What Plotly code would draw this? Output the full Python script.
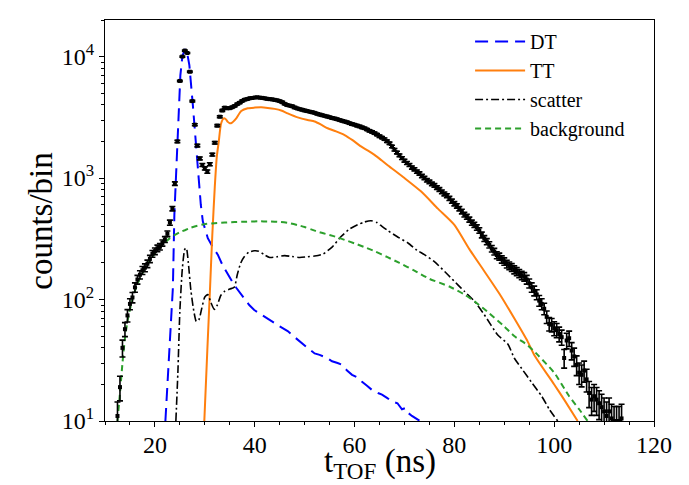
import numpy as np
import plotly.graph_objects as go

# ---------------- measured histogram (0.5 ns bins starting at 12.5 ns) ----------------
bin_start = 12.5
bin_width = 0.5
counts = [
    # 12.5 - 23.0
    11, 19, 40, 57, 74, 92, 104, 126, 146, 160, 174, 183, 197, 216, 238, 250, 264, 272, 292, 312, 348, 430,
    # 23.5 - 34.0
    560, 900, 2000, 6300, 10000, 11200, 10700, 7500, 4300, 2750, 1850, 1450, 1280, 1200, 1130, 1300, 1560, 1950, 2700, 3200, 3600, 3800,
    # 34.5 - 50.0
    3750, 3760, 3830, 3920, 4060, 4170, 4310, 4420, 4470, 4540, 4560, 4600, 4620, 4590, 4570, 4530,
    4490, 4460, 4440, 4400, 4360, 4300, 4210, 4080, 3990, 3950, 3900, 3810, 3740, 3690, 3650, 3600,
    # 50.5 - 66.0
    3560, 3520, 3480, 3440, 3380, 3330, 3290, 3250, 3210, 3170, 3120, 3090, 3050, 3000, 2960, 2920,
    2880, 2830, 2780, 2750, 2700, 2660, 2610, 2570, 2510, 2450, 2400, 2340, 2280, 2210, 2150, 2090,
    # 66.5 - 84.0
    2010, 1930, 1820, 1710, 1620, 1540, 1460, 1390, 1330, 1280, 1220, 1180, 1130, 1090, 1040, 1000, 960, 930,
    895, 870, 835, 805, 770, 740, 715, 680, 645, 615, 590, 560, 530, 500, 480, 455, 430, 412,
    # 84.5 - 113.5
    392, 370, 340, 318, 300, 282, 262, 248, 232, 226, 214, 206, 196, 190, 184, 176, 170, 164, 158, 154,
    146, 136, 126, 118, 110, 98, 92, 84, 72, 63, 62, 58, 56, 52, 49, 33, 46, 48, 38, 34,
    29, 25, 24, 26, 22, 17, 15, 16, 15, 14, 13, 12, 11, 12, 10.5, 10, 10, 10, 10.5,
]

# ---------------- fit components ----------------
dt_t = [22.1, 22.5, 22.9, 23.3, 23.6, 23.9, 24.2, 24.6, 25.1, 25.5, 26.0, 26.5, 26.9, 27.6, 28.2, 28.6, 28.9,
        29.2, 29.6, 30.6, 31.6, 32.6, 33.6, 34.6, 35.5, 36.3, 37.1, 37.9, 38.9, 39.9, 41.0, 42.0, 43.0, 44.0,
        45.0, 46.6, 48.0, 49.0, 50.6, 52.0, 53.0, 54.5, 55.5, 56.6, 57.5, 58.5, 59.5, 60.7, 61.5, 62.5, 63.5,
        64.7, 65.5, 66.5, 67.5, 68.6, 69.5, 70.2, 70.7, 71.5, 72.2, 73.1]
dt_v = [10, 20, 35, 70, 125, 500, 1000, 2700, 7000, 10000, 11500, 10500, 8500, 4000, 2000, 1100, 850,
        600, 440, 320, 270, 234, 190, 160, 140, 125, 113, 103, 90, 82, 77, 72, 68, 64,
        60, 55, 49, 45, 40, 36, 35, 33, 31, 30, 29, 26, 24, 22.7, 21, 19.5, 18,
        17, 16.5, 15.5, 14.5, 14, 12.5, 12.8, 11.7, 11, 10.5, 10]

tt_t = [29.9, 30.5, 31.0, 31.5, 32.0, 32.4, 32.8, 33.25, 33.8, 34.2, 34.6, 35.0, 35.4, 36.3, 37.3, 38.6, 40.0,
        41.3, 42.6, 44.0, 45.3, 46.6, 48.6, 50.6, 52.0, 53.3, 54.6, 56.3, 58.0, 59.6, 61.3, 62.7, 64.0, 65.4,
        66.7, 70.0, 73.3, 76.7, 80.0, 83.0, 86.0, 89.0, 92.0, 94.7, 96.0, 100.0, 102.0, 104.7]
tt_v = [10, 38, 112, 340, 850, 1500, 2000, 2800, 3100, 3050, 2900, 2830, 2850, 3100, 3560, 3750, 3800,
        3820, 3780, 3710, 3600, 3410, 3160, 3000, 2920, 2750, 2570, 2420, 2260, 2050, 1820, 1680, 1550, 1400,
        1270, 1000, 777, 560, 412, 260, 171, 112, 70, 45, 35, 20, 15, 10]

sc_t = [24.2, 24.6, 25.0, 25.5, 26.0, 26.3, 26.7, 27.2, 27.8, 28.3, 28.8, 29.4, 30.0, 30.6, 31.2, 31.9, 32.5,
        33.2, 34.0, 35.0, 35.9, 36.5, 37.2, 37.9, 38.8, 39.9, 40.8, 41.8, 43.0, 44.5, 46.0, 47.5, 49.0, 50.6,
        52.0, 53.6, 55.5, 57.3, 59.0, 60.6, 62.0, 63.3, 64.5, 65.5, 66.65, 68.5, 70.7, 72.5, 74.0, 76.0, 78.7,
        80.7, 82.0, 84.0, 86.0, 88.7, 90.7, 92.0, 93.5, 95.4, 97.5, 99.0, 100.7]
sc_v = [10, 25, 80, 180, 260, 265, 200, 120, 80, 66, 68, 85, 105, 110, 95, 83, 90,
        108, 117, 122, 126, 160, 200, 225, 245, 252, 250, 235, 222, 225, 230, 226, 222, 225,
        228, 236, 270, 330, 380, 412, 435, 445, 430, 400, 370, 330, 292, 255, 234, 205, 160,
        132, 117, 97, 75, 51, 43, 33, 27, 21, 16, 12.5, 10]

bg_t = [12.5, 13.0, 13.5, 14.0, 14.5, 15.0, 15.5, 16.0, 17.0, 18.0, 19.0, 20.0, 21.0, 22.0, 23.0, 24.0, 25.0,
        26.0, 27.2, 28.5, 29.9, 32.0, 34.0, 36.0, 38.0, 40.6, 43.0, 45.0, 47.0, 48.6, 50.0, 51.3, 53.0, 55.0,
        56.6, 58.0, 60.0, 62.0, 64.0, 66.6, 69.0, 72.0, 75.0, 79.0, 82.0, 84.4, 87.0, 90.0, 92.0, 94.7, 96.7,
        100.0, 103.0, 105.0, 106.7]
bg_v = [10, 17, 30, 48, 66, 83, 100, 118, 150, 180, 210, 240, 268, 295, 320, 340, 358,
        372, 390, 405, 417, 425, 430, 434, 437, 440, 439, 435, 425, 410, 395, 378, 358, 340,
        325, 310, 290, 270, 250, 223, 200, 173, 148, 128, 110, 94, 77, 60, 50, 42, 35,
        25, 16, 12.5, 10]

x_ticks = [20, 40, 60, 80, 100, 120]
y_ticks = [10, 100, 1000, 10000]
y_ticktext = ["10<sup>1</sup>", "10<sup>2</sup>", "10<sup>3</sup>", "10<sup>4</sup>"]
y_minor = [m * 10 ** e for e in range(1, 5) for m in range(2, 10)]
x_title = "t<sub>TOF</sub> (ns)"
y_title = "counts/bin"

# ---------------- figure ----------------
tof = bin_start + bin_width * np.arange(len(counts))
cnt = np.array(counts, dtype=float)
err = np.sqrt(cnt)

FONT = "Liberation Serif"

fig = go.Figure()
fig.add_trace(go.Scatter(x=dt_t, y=dt_v, mode="lines", name="DT",
                         line=dict(color="#0000ff", width=2, dash="13px,7px")))
fig.add_trace(go.Scatter(x=tt_t, y=tt_v, mode="lines", name="TT", line_shape="spline",
                         line=dict(color="#ff7f0e", width=2, smoothing=0.6)))
fig.add_trace(go.Scatter(x=sc_t, y=sc_v, mode="lines", name="scatter", line_shape="spline",
                         line=dict(color="black", width=1.6, dash="8px,3px,2px,3px", smoothing=0.6)))
fig.add_trace(go.Scatter(x=bg_t, y=bg_v, mode="lines", name="background", line_shape="spline",
                         line=dict(color="#2ca02c", width=2, dash="6px,4px", smoothing=0.6)))
fig.add_trace(go.Scatter(x=tof, y=cnt, mode="markers", showlegend=False,
                         marker=dict(color="black", size=4, symbol="square"),
                         error_y=dict(type="data", array=err, color="black", thickness=1.6, width=3)))

fig.update_layout(
    width=689, height=485,
    margin=dict(l=97, r=43, t=12, b=72),
    paper_bgcolor="white", plot_bgcolor="white",
    font=dict(family=FONT, color="black", size=20),
    legend=dict(x=0.665, y=0.995, xanchor="left", yanchor="top", bgcolor="rgba(0,0,0,0)",
                font=dict(size=20, family=FONT), borderwidth=0, itemwidth=50),
    annotations=[
        dict(text=x_title, xref="paper", yref="paper", x=0.5, y=-0.163, xanchor="center", yanchor="bottom",
             showarrow=False, font=dict(size=33, family=FONT)),
        dict(text=y_title, xref="paper", yref="paper", x=-0.118, y=0.5, xanchor="center", yanchor="middle",
             textangle=-90, showarrow=False, font=dict(size=33, family=FONT)),
    ],
)
fig.update_xaxes(range=[10, 120], tickvals=x_ticks, ticks="outside", ticklen=5, tickwidth=1.2,
                 tickcolor="black", showline=True, linecolor="black", linewidth=1.2, mirror=True,
                 showgrid=False, zeroline=False, tickfont=dict(size=24), ticklabelstandoff=-3,
                 minor=dict(dtick=5, tick0=0, ticks="outside", ticklen=3, tickcolor="black", showgrid=False))
fig.update_yaxes(type="log", range=[1, 4.301], tickvals=y_ticks, ticktext=y_ticktext, ticks="outside",
                 ticklen=5, tickwidth=1.2, tickcolor="black", showline=True, linecolor="black", linewidth=1.2,
                 mirror=True, showgrid=False, zeroline=False, tickfont=dict(size=24),
                 minor=dict(tickvals=y_minor, ticks="outside", ticklen=3, tickcolor="black", showgrid=False))

fig.write_html("out.html")
